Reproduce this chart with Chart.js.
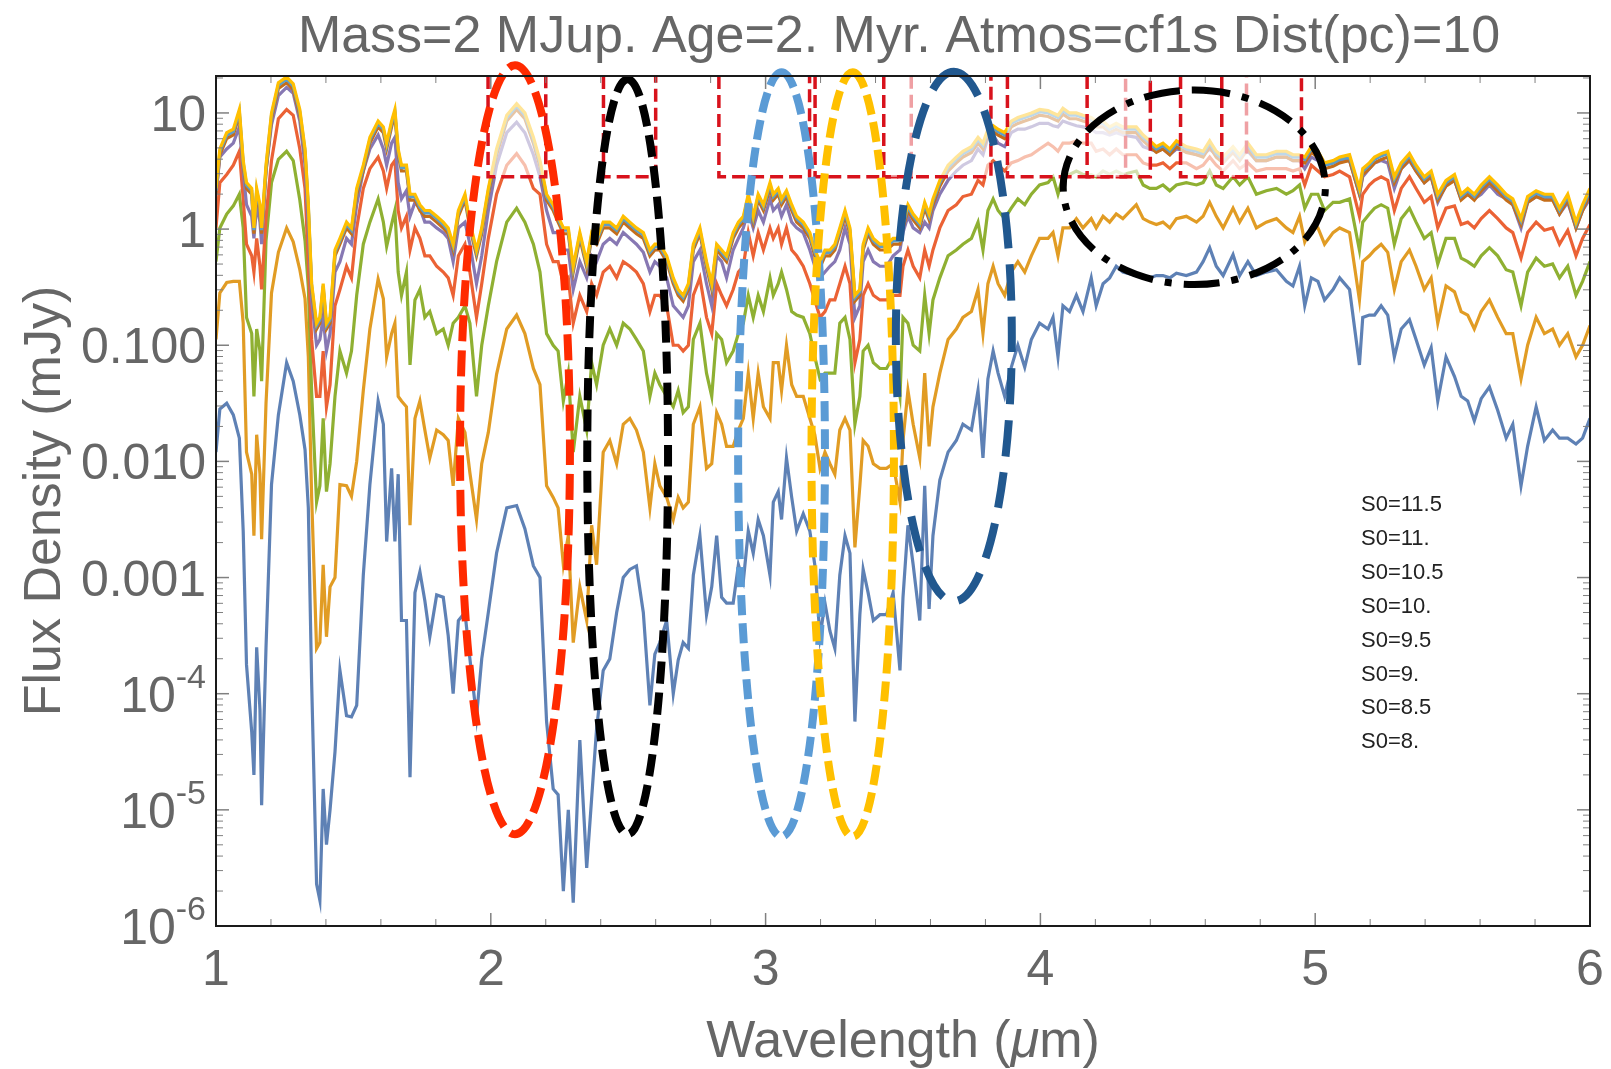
<!DOCTYPE html>
<html>
<head>
<meta charset="utf-8">
<script src="https://cdn.jsdelivr.net/npm/chart.js@4.4.0/dist/chart.umd.min.js"></script>
<style>
  html, body { margin: 0; padding: 0; background: #fff; }
  #wrap { width: 1611px; height: 1069px; }
</style>
</head>
<body>
<div id="wrap"><canvas id="spectra"></canvas></div>
<script>
// wavelength grid (micron)
const wavelength = [
  1.000,1.014,1.039,1.063,1.085,1.099,1.111,1.130,1.138,1.148,1.160,1.166,1.182,1.202,1.227,1.257,1.281,1.305,1.324,1.336,1.348,1.366,1.378,1.390,1.402,1.415,1.433,1.451,1.475,1.493,1.512,1.536,1.560,1.590,1.609,1.621,1.639,1.651,1.663,1.675,1.693,1.706,1.724,1.742,1.760,1.778,1.803,1.827,1.845,
  1.863,1.882,1.906,1.924,1.948,1.967,1.991,2.021,2.058,2.094,2.124,2.155,2.179,2.203,2.227,2.245,2.264,2.282,2.300,2.324,2.349,2.367,2.385,2.409,2.433,2.458,2.482,2.506,2.530,2.555,2.579,2.597,2.615,2.640,
  2.664,2.682,2.700,2.719,2.737,2.761,2.785,2.804,2.822,2.840,2.858,2.882,2.901,2.919,2.937,2.955,2.973,2.992,3.016,3.028,3.046,3.058,3.076,3.095,3.113,3.137,3.161,3.179,3.198,3.216,3.234,3.252,3.270,3.289,3.307,3.325,3.343,3.355,3.373,3.392,3.416,3.440,3.464,3.489,
  3.500,3.518,3.537,3.561,3.579,3.595,3.609,3.634,3.664,3.694,3.718,3.749,3.773,3.791,3.809,3.828,3.846,3.870,3.894,3.918,3.943,3.967,3.997,4.028,4.046,4.064,4.082,4.106,4.131,4.155,4.185,4.203,4.228,4.252,4.276,4.300,
  4.349,4.374,4.398,4.422,4.446,4.471,4.495,4.531,4.568,4.592,4.616,4.640,4.665,4.701,4.725,4.755,4.786,4.822,4.859,4.895,4.919,4.943,4.962,4.986,5.010,5.034,5.065,5.089,5.125,
  5.161,5.173,5.197,5.216,5.240,5.264,5.288,5.313,5.343,5.367,5.397,5.422,5.446,5.476,5.507,5.531,5.555,5.579,5.604,5.634,5.664,5.695,5.719,5.749,5.773,5.804,5.834,5.864,5.889,5.919,5.949,5.973,6.000
];

// log10 of flux density (mJy) per S0 value
const logS0_8 = [
  -1.92,-1.55,-1.50,-1.60,-1.80,-2.60,-3.75,-4.33,-4.70,-3.60,-4.14,-4.96,-3.60,-2.20,-1.60,-1.15,-1.31,-1.60,-1.90,-2.40,-3.90,-5.64,-5.78,-4.82,-5.30,-5.00,-4.50,-3.80,-4.19,-4.20,-4.10,-2.98,-2.20,-1.48,-1.68,-2.69,-2.06,-2.69,-2.11,-3.37,-3.37,-4.72,-3.13,-2.95,-3.20,-3.51,-3.15,-3.17,-3.50,
  -4.00,-3.37,-3.30,-3.70,-4.20,-3.70,-3.30,-2.79,-2.40,-2.38,-2.58,-2.90,-3.00,-4.24,-4.82,-4.87,-5.70,-5.00,-5.80,-4.40,-5.50,-4.90,-4.30,-3.80,-3.70,-3.30,-3.00,-2.93,-2.90,-3.30,-4.10,-3.66,-3.56,-3.37,
  -4.00,-3.71,-3.56,-3.61,-2.98,-2.64,-3.32,-3.08,-2.64,-3.17,-3.22,-3.22,-2.89,-3.03,-2.60,-2.79,-2.50,-2.64,-2.98,-2.35,-2.26,-2.50,-1.97,-2.31,-2.60,-2.45,-2.60,-2.89,-3.51,-3.22,-3.46,-3.61,-2.98,-2.64,-2.79,-4.24,-3.32,-2.93,-3.13,-3.37,-3.32,-3.32,-3.13,-3.80,
  -3.17,-2.55,-2.89,-3.37,-2.21,-3.27,-2.64,-2.16,-1.92,-1.82,-1.68,-1.73,-1.39,-1.97,-1.29,-1.05,-1.24,-1.44,-1.19,-1.00,-1.19,-0.95,-0.81,-0.86,-0.76,-1.10,-0.66,-0.71,-0.57,-0.71,-0.42,-0.66,-0.47,-0.42,-0.32,-0.37,
  -0.40,-0.40,-0.42,-0.40,-0.40,-0.42,-0.38,-0.40,-0.37,-0.28,-0.16,-0.32,-0.40,-0.22,-0.40,-0.28,-0.40,-0.37,-0.35,-0.45,-0.49,-0.32,-0.66,-0.42,-0.45,-0.61,-0.52,-0.42,-0.52,
  -1.17,-0.76,-0.74,-0.74,-0.66,-0.74,-1.10,-0.86,-0.78,-0.95,-1.17,-1.02,-1.48,-1.10,-1.27,-1.44,-1.48,-1.65,-1.46,-1.36,-1.56,-1.80,-1.68,-2.21,-1.87,-1.53,-1.82,-1.73,-1.80,-1.80,-1.85,-1.80,-1.63
];
const logS0_85 = [
  -0.95,-0.55,-0.46,-0.45,-0.45,-0.81,-1.92,-2.11,-2.64,-1.77,-2.11,-2.67,-1.50,-0.55,-0.20,0.01,-0.11,-0.35,-0.60,-1.10,-2.30,-3.61,-3.56,-2.89,-3.51,-3.08,-3.00,-2.20,-2.21,-2.30,-2.00,-1.39,-0.86,-0.43,-0.60,-1.10,-0.90,-0.81,-1.44,-1.48,-1.53,-2.55,-1.63,-1.48,-1.73,-1.97,-1.73,-1.77,-1.82,
  -2.21,-1.63,-1.75,-2.10,-2.50,-2.02,-1.75,-1.25,-0.86,-0.74,-0.90,-1.20,-1.34,-2.21,-2.31,-2.40,-2.89,-2.64,-3.56,-3.08,-3.37,-2.55,-2.89,-1.92,-1.82,-2.02,-1.68,-1.63,-1.73,-1.92,-2.40,-2.02,-2.21,-2.31,
  -2.50,-2.31,-2.40,-2.35,-1.68,-1.53,-2.06,-2.02,-1.58,-1.68,-1.87,-1.87,-1.73,-1.63,-1.24,-1.63,-1.24,-1.53,-1.63,-1.15,-1.15,-1.39,-1.00,-1.34,-1.44,-1.44,-1.63,-1.77,-2.06,-1.92,-2.02,-2.11,-1.73,-1.63,-1.73,-2.74,-2.21,-1.82,-1.87,-2.02,-2.06,-2.06,-2.02,-2.35,
  -1.82,-1.39,-1.68,-1.97,-1.24,-1.87,-1.53,-1.24,-0.95,-0.86,-0.76,-0.71,-0.52,-0.90,-0.47,-0.32,-0.47,-0.57,-0.37,-0.28,-0.37,-0.23,-0.08,-0.08,-0.03,-0.23,0.01,0.01,0.09,0.01,0.09,0.01,0.11,0.06,0.13,0.09,
  0.21,0.09,0.06,0.04,0.06,0.01,0.09,0.11,0.06,0.11,0.23,0.11,0.01,0.18,0.06,0.18,0.01,0.06,0.09,0.01,-0.03,0.11,-0.11,0.01,0.01,-0.13,-0.03,0.01,-0.03,
  -0.61,-0.28,-0.23,-0.18,-0.13,-0.20,-0.52,-0.28,-0.18,-0.32,-0.52,-0.42,-0.81,-0.49,-0.54,-0.71,-0.74,-0.86,-0.71,-0.61,-0.76,-0.90,-0.90,-1.29,-1.00,-0.76,-0.90,-0.86,-1.00,-0.90,-1.10,-1.00,-0.83
];
const logS0_9 = [
  -0.28,0.01,0.13,0.20,0.30,0.01,-0.76,-0.90,-1.44,-0.86,-1.05,-1.31,-0.10,0.40,0.60,0.67,0.59,0.25,-0.10,-0.50,-1.40,-2.35,-2.21,-1.63,-2.26,-2.02,-1.44,-1.05,-1.24,-1.05,-0.57,-0.13,0.06,0.26,0.06,-0.15,0.04,0.16,-0.37,-0.57,-0.37,-1.17,-0.61,-0.52,-0.76,-0.71,-0.90,-0.86,-1.00,
  -0.81,-0.76,-0.66,-0.81,-1.44,-1.00,-0.66,-0.28,0.06,0.18,0.06,-0.13,-0.37,-0.90,-1.00,-1.05,-1.48,-1.24,-1.92,-1.44,-1.73,-1.15,-1.34,-1.00,-0.86,-1.00,-0.81,-0.86,-0.95,-1.05,-1.44,-1.24,-1.34,-1.44,
  -1.53,-1.39,-1.58,-1.53,-0.95,-0.81,-1.24,-1.44,-0.90,-0.95,-1.15,-1.05,-0.90,-0.81,-0.57,-0.76,-0.57,-0.71,-0.42,-0.57,-0.47,-0.37,-0.52,-0.71,-0.74,-0.76,-0.90,-1.10,-1.29,-1.24,-1.24,-1.24,-0.81,-0.76,-0.95,-1.68,-1.44,-1.05,-1.00,-1.15,-1.20,-1.20,-1.10,-1.44,
  -0.76,-0.81,-1.00,-1.05,-0.57,-0.90,-0.61,-0.42,-0.23,-0.18,-0.13,-0.08,0.06,-0.18,0.16,0.26,0.16,0.09,0.18,0.26,0.21,0.30,0.38,0.40,0.45,0.30,0.45,0.47,0.50,0.47,0.47,0.45,0.50,0.47,0.50,0.47,
  0.50,0.38,0.35,0.35,0.38,0.33,0.38,0.40,0.38,0.40,0.50,0.38,0.35,0.45,0.38,0.45,0.30,0.33,0.35,0.30,0.33,0.38,0.18,0.30,0.30,0.16,0.23,0.23,0.26,
  -0.18,0.06,0.13,0.18,0.21,0.18,-0.13,0.09,0.18,0.06,-0.08,-0.03,-0.30,-0.08,-0.08,-0.25,-0.28,-0.32,-0.23,-0.16,-0.23,-0.35,-0.37,-0.66,-0.37,-0.25,-0.32,-0.30,-0.42,-0.32,-0.57,-0.45,-0.28
];
const logS0_95 = [
  0.01,0.40,0.47,0.55,0.67,0.26,-0.13,-0.23,-0.37,-0.08,-0.32,-0.52,0.10,0.59,0.95,1.03,0.98,0.69,0.35,-0.30,-0.95,-1.44,-1.44,-1.05,-1.53,-1.34,-0.66,-0.52,-0.32,-0.42,0.01,0.35,0.52,0.62,0.50,0.35,0.55,0.59,0.16,0.01,0.11,-0.18,0.01,-0.08,-0.23,-0.23,-0.32,-0.37,-0.42,
  -0.57,-0.23,-0.13,-0.37,-0.76,-0.47,-0.08,0.30,0.55,0.65,0.55,0.35,0.30,-0.13,-0.28,-0.28,-0.47,-0.42,-0.81,-0.57,-0.71,-0.47,-0.57,-0.37,-0.32,-0.42,-0.28,-0.32,-0.37,-0.47,-0.71,-0.57,-0.57,-0.66,
  -1.00,-1.00,-1.05,-1.00,-0.57,-0.42,-0.76,-0.90,-0.47,-0.57,-0.66,-0.52,-0.37,-0.32,-0.03,-0.23,-0.03,-0.18,0.01,-0.08,0.01,-0.13,0.01,-0.18,-0.23,-0.32,-0.47,-0.61,-0.76,-0.71,-0.61,-0.61,-0.47,-0.32,-0.47,-1.15,-0.95,-0.57,-0.47,-0.57,-0.61,-0.61,-0.57,-0.57,
  -0.32,-0.18,-0.32,-0.42,-0.18,-0.32,-0.18,0.01,0.16,0.21,0.28,0.30,0.42,0.38,0.55,0.59,0.55,0.50,0.57,0.59,0.62,0.64,0.69,0.74,0.71,0.67,0.74,0.74,0.76,0.74,0.74,0.67,0.69,0.64,0.69,0.64,
  0.64,0.57,0.55,0.55,0.57,0.52,0.57,0.57,0.52,0.55,0.62,0.55,0.50,0.59,0.52,0.57,0.50,0.52,0.52,0.52,0.50,0.52,0.38,0.55,0.50,0.45,0.47,0.50,0.45,
  0.11,0.30,0.38,0.42,0.45,0.42,0.16,0.35,0.45,0.35,0.23,0.28,0.01,0.18,0.20,0.04,0.06,0.01,0.09,0.16,0.09,0.01,-0.03,-0.25,-0.03,0.06,-0.01,0.01,-0.13,-0.01,-0.23,-0.08,0.04
];
const logS0_10 = [
  0.30,0.62,0.69,0.74,0.88,0.50,0.21,0.11,-0.08,0.21,0.06,-0.13,0.50,0.90,1.15,1.22,1.17,0.93,0.55,0.01,-0.61,-1.00,-0.95,-0.76,-1.05,-0.90,-0.37,-0.28,-0.08,-0.13,0.21,0.50,0.69,0.81,0.69,0.55,0.74,0.79,0.40,0.26,0.33,0.11,0.23,0.18,0.06,0.06,0.01,-0.03,-0.08,
  -0.28,0.01,0.06,-0.13,-0.47,-0.23,0.16,0.55,0.83,0.92,0.83,0.64,0.45,0.16,-0.03,-0.03,-0.18,-0.18,-0.52,-0.28,-0.42,-0.23,-0.28,-0.13,-0.08,-0.13,-0.03,-0.08,-0.13,-0.20,-0.37,-0.28,-0.32,-0.42,
  -0.66,-0.71,-0.76,-0.66,-0.28,-0.18,-0.47,-0.66,-0.23,-0.28,-0.42,-0.18,-0.08,0.01,0.16,0.01,0.16,0.06,0.26,0.16,0.21,0.11,0.21,0.06,0.01,-0.03,-0.18,-0.32,-0.42,-0.37,-0.32,-0.28,-0.18,0.01,-0.13,-0.76,-0.66,-0.28,-0.18,-0.28,-0.32,-0.32,-0.23,-0.18,
  -0.03,0.11,0.01,-0.03,0.06,0.01,0.16,0.30,0.42,0.50,0.55,0.59,0.69,0.64,0.79,0.81,0.74,0.71,0.83,0.86,0.86,0.88,0.91,0.91,0.89,0.88,0.93,0.91,0.89,0.88,0.86,0.83,0.83,0.81,0.83,0.81,
  0.79,0.71,0.69,0.67,0.69,0.64,0.69,0.67,0.64,0.64,0.69,0.64,0.59,0.67,0.62,0.67,0.59,0.59,0.62,0.62,0.59,0.59,0.52,0.62,0.59,0.55,0.57,0.59,0.59,
  0.30,0.45,0.52,0.57,0.59,0.57,0.35,0.52,0.59,0.50,0.40,0.45,0.23,0.38,0.42,0.26,0.30,0.26,0.30,0.38,0.30,0.26,0.21,0.01,0.23,0.28,0.26,0.26,0.13,0.23,0.01,0.16,0.26
];
const logS0_105 = [
  0.30,0.64,0.78,0.81,0.98,0.54,0.35,0.30,-0.04,0.30,0.16,-0.04,0.50,0.95,1.21,1.26,1.20,0.98,0.64,0.16,-0.52,-0.86,-0.81,-0.52,-0.86,-0.81,-0.23,-0.13,0.01,-0.04,0.30,0.50,0.74,0.88,0.83,0.69,0.88,0.98,0.64,0.50,0.50,0.25,0.25,0.16,0.11,0.11,0.06,0.01,-0.04,
  -0.18,0.11,0.25,0.01,-0.23,-0.04,0.30,0.64,0.93,1.03,0.95,0.74,0.54,0.25,0.16,0.06,-0.04,-0.04,-0.37,-0.08,-0.33,-0.08,-0.13,0.01,0.01,-0.04,0.06,0.01,-0.04,-0.08,-0.23,-0.18,-0.18,-0.28,
  -0.47,-0.57,-0.62,-0.52,-0.18,-0.04,-0.33,-0.52,-0.18,-0.23,-0.28,-0.08,0.01,0.06,0.25,0.06,0.25,0.16,0.35,0.25,0.30,0.21,0.28,0.16,0.06,0.01,-0.08,-0.23,-0.33,-0.23,-0.23,-0.18,-0.04,0.11,-0.04,-0.62,-0.57,-0.18,-0.04,-0.13,-0.18,-0.18,-0.13,-0.13,
  0.01,0.16,0.08,0.01,0.18,0.08,0.21,0.37,0.50,0.57,0.62,0.66,0.74,0.69,0.81,0.84,0.81,0.78,0.88,0.91,0.93,0.95,0.98,0.97,0.95,0.93,0.99,0.95,0.95,0.93,0.91,0.88,0.88,0.83,0.86,0.83,
  0.83,0.76,0.71,0.66,0.69,0.64,0.71,0.66,0.64,0.62,0.71,0.62,0.57,0.66,0.59,0.69,0.59,0.59,0.62,0.62,0.59,0.59,0.57,0.66,0.62,0.52,0.54,0.57,0.59,
  0.30,0.47,0.52,0.57,0.60,0.62,0.40,0.52,0.60,0.50,0.40,0.45,0.25,0.37,0.42,0.25,0.30,0.25,0.33,0.40,0.33,0.25,0.21,0.04,0.23,0.28,0.25,0.25,0.13,0.25,0.01,0.16,0.30
];
const logS0_11 = [
  0.33,0.67,0.81,0.84,1.01,0.57,0.38,0.33,-0.01,0.33,0.19,-0.01,0.53,0.98,1.24,1.29,1.23,1.01,0.67,0.19,-0.49,-0.83,-0.78,-0.49,-0.83,-0.78,-0.20,-0.10,0.04,-0.01,0.33,0.53,0.77,0.91,0.86,0.72,0.91,1.01,0.67,0.53,0.53,0.28,0.28,0.19,0.14,0.14,0.09,0.04,-0.01,
  -0.15,0.14,0.28,0.04,-0.20,-0.01,0.33,0.67,0.96,1.06,0.98,0.77,0.57,0.28,0.19,0.09,-0.01,-0.01,-0.34,-0.05,-0.30,-0.05,-0.10,0.04,0.04,-0.01,0.09,0.04,-0.01,-0.05,-0.20,-0.15,-0.15,-0.25,
  -0.44,-0.54,-0.59,-0.49,-0.15,-0.01,-0.30,-0.49,-0.15,-0.20,-0.25,-0.05,0.04,0.09,0.28,0.09,0.28,0.19,0.38,0.28,0.33,0.24,0.31,0.19,0.09,0.04,-0.05,-0.20,-0.30,-0.20,-0.20,-0.15,-0.01,0.14,-0.01,-0.59,-0.54,-0.15,-0.01,-0.10,-0.15,-0.15,-0.10,-0.10,
  0.04,0.19,0.11,0.04,0.21,0.11,0.24,0.40,0.53,0.60,0.65,0.69,0.77,0.72,0.84,0.87,0.84,0.81,0.91,0.94,0.96,0.98,1.01,1.00,0.98,0.96,1.02,0.98,0.98,0.96,0.94,0.91,0.91,0.86,0.89,0.86,
  0.86,0.79,0.74,0.69,0.72,0.67,0.74,0.69,0.67,0.65,0.74,0.65,0.60,0.69,0.62,0.72,0.62,0.62,0.65,0.65,0.62,0.62,0.60,0.69,0.65,0.55,0.57,0.60,0.62,
  0.33,0.50,0.55,0.60,0.63,0.65,0.43,0.55,0.63,0.53,0.43,0.48,0.28,0.40,0.45,0.28,0.33,0.28,0.36,0.43,0.36,0.28,0.24,0.07,0.26,0.31,0.28,0.28,0.16,0.28,0.04,0.19,0.33
];
const logS0_115 = [
  0.35,0.69,0.83,0.86,1.03,0.59,0.40,0.35,0.01,0.35,0.21,0.01,0.55,1.00,1.26,1.31,1.25,1.03,0.69,0.21,-0.47,-0.81,-0.76,-0.47,-0.81,-0.76,-0.18,-0.08,0.06,0.01,0.35,0.55,0.79,0.93,0.88,0.74,0.93,1.03,0.69,0.55,0.55,0.30,0.30,0.21,0.16,0.16,0.11,0.06,0.01,
  -0.13,0.16,0.30,0.06,-0.18,0.01,0.35,0.69,0.98,1.08,1.00,0.79,0.59,0.30,0.21,0.11,0.01,0.01,-0.32,-0.03,-0.28,-0.03,-0.08,0.06,0.06,0.01,0.11,0.06,0.01,-0.03,-0.18,-0.13,-0.13,-0.23,
  -0.42,-0.52,-0.57,-0.47,-0.13,0.01,-0.28,-0.47,-0.13,-0.18,-0.23,-0.03,0.06,0.11,0.30,0.11,0.30,0.21,0.40,0.30,0.35,0.26,0.33,0.21,0.11,0.06,-0.03,-0.18,-0.28,-0.18,-0.18,-0.13,0.01,0.16,0.01,-0.57,-0.52,-0.13,0.01,-0.08,-0.13,-0.13,-0.08,-0.08,
  0.06,0.21,0.13,0.06,0.23,0.13,0.26,0.42,0.55,0.62,0.67,0.71,0.79,0.74,0.86,0.89,0.86,0.83,0.93,0.96,0.98,1.00,1.03,1.02,1.00,0.98,1.04,1.00,1.00,0.98,0.96,0.93,0.93,0.88,0.91,0.88,
  0.88,0.81,0.76,0.71,0.74,0.69,0.76,0.71,0.69,0.67,0.76,0.67,0.62,0.71,0.64,0.74,0.64,0.64,0.67,0.67,0.64,0.64,0.62,0.71,0.67,0.57,0.59,0.62,0.64,
  0.35,0.52,0.57,0.62,0.65,0.67,0.45,0.57,0.65,0.55,0.45,0.50,0.30,0.42,0.47,0.30,0.35,0.30,0.38,0.45,0.38,0.30,0.26,0.09,0.28,0.33,0.30,0.30,0.18,0.30,0.06,0.21,0.35
];

const legendLabels = ['S0=11.5', 'S0=11.', 'S0=10.5', 'S0=10.', 'S0=9.5', 'S0=9.', 'S0=8.5', 'S0=8.'];
const xTickValues = [1, 2, 3, 4, 5, 6];
const yTickValues = [10, 1, 0.1, 0.01, 0.001, 1e-4, 1e-5, 1e-6];
const yTickLabels = ['10', '1', '0.100', '0.010', '0.001', ['10', '-4'], ['10', '-5'], ['10', '-6']];

// filter bands (micron), drawn as dashed boxes above 2.82 mJy
const bands = [[1.99, 2.20], [2.41, 2.60], [2.83, 3.16], [3.18, 3.53], [3.43, 3.82], [3.88, 4.31], [4.17, 4.40], [4.51, 4.75], [4.66, 4.95]];
const bandFloor = 2.82;

// highlight rings: centre wavelength, half width (micron), centre log10 flux, half height (decades)
const rings = [
  { wl: 2.088, hw: 0.200, lc: -1.90, hd: 3.31, color: '#ff2a00', dash: [26, 9], width: 8 },
  { wl: 2.498, hw: 0.147, lc: -1.96, hd: 3.25, color: '#000000', dash: [22, 9], width: 8 },
  { wl: 3.058, hw: 0.158, lc: -1.94, hd: 3.29, color: '#5b9bd5', dash: [20, 8], width: 8 },
  { wl: 3.317, hw: 0.150, lc: -1.94, hd: 3.29, color: '#ffc000', dash: [20, 8], width: 8 },
  { wl: 3.685, hw: 0.211, lc: -0.925, hd: 2.28, color: '#21588f', dash: [36, 16], width: 8 },
  { wl: 4.560, hw: 0.477, lc: 0.36, hd: 0.837, color: '#000000', dash: [36, 12, 7, 12], width: 7 }
];

const series = [
  { label: legendLabels[0], logs: logS0_115, color: '#FFBF00' },
  { label: legendLabels[1], logs: logS0_11, color: '#5D9EC7' },
  { label: legendLabels[2], logs: logS0_105, color: '#C56E1A' },
  { label: legendLabels[3], logs: logS0_10, color: '#8778B3' },
  { label: legendLabels[4], logs: logS0_95, color: '#EB6235' },
  { label: legendLabels[5], logs: logS0_9, color: '#8FB032' },
  { label: legendLabels[6], logs: logS0_85, color: '#E19C24' },
  { label: legendLabels[7], logs: logS0_8, color: '#5E81B5' }
];

const FONT = '"Liberation Sans", Arial, Helvetica, sans-serif';
const GREY = '#666666';

function toPoints(logs) {
  return wavelength.map((w, i) => ({ x: w, y: Math.pow(10, logs[i]) }));
}

const decor = {
  id: 'decor',
  afterDatasetsDraw(chart) {
    const { ctx, chartArea: a, scales: { x, y } } = chart;
    ctx.save();
    const yb = y.getPixelForValue(bandFloor);
    bands.forEach(([lo, hi]) => {
      const x0 = x.getPixelForValue(lo), x1 = x.getPixelForValue(hi);
      ctx.setLineDash([]);
      ctx.fillStyle = 'rgba(255,255,255,0.6)';
      ctx.fillRect(x0, a.top, x1 - x0, yb - a.top);
      ctx.strokeStyle = '#d8121c';
      ctx.lineWidth = 3.5;
      ctx.setLineDash([13, 6]);
      ctx.beginPath();
      ctx.moveTo(x0, a.top);
      ctx.lineTo(x0, yb);
      ctx.lineTo(x1, yb);
      ctx.lineTo(x1, a.top);
      ctx.stroke();
    });
    rings.forEach(r => {
      const cx = x.getPixelForValue(r.wl);
      const rx = x.getPixelForValue(r.wl + r.hw) - cx;
      const cy = y.getPixelForValue(Math.pow(10, r.lc));
      const ry = y.getPixelForValue(Math.pow(10, r.lc - r.hd)) - cy;
      ctx.strokeStyle = r.color;
      ctx.lineWidth = r.width;
      ctx.setLineDash(r.dash);
      ctx.beginPath();
      ctx.ellipse(cx, cy, rx, ry, 0, -Math.PI / 2, Math.PI * 1.5);
      ctx.stroke();
    });
    ctx.restore();
  },
  afterDraw(chart) {
    const { ctx, chartArea: a, scales: { x, y } } = chart;
    ctx.save();
    ctx.setLineDash([]);

    // ticks, pointing inwards on all four sides
    ctx.strokeStyle = '#808080';
    const tick = (x0, y0, x1, y1, w) => {
      ctx.lineWidth = w;
      ctx.beginPath(); ctx.moveTo(x0, y0); ctx.lineTo(x1, y1); ctx.stroke();
    };
    for (let e = -6; e <= 1; e++) {
      for (let k = 1; k <= 9; k++) {
        const v = k * Math.pow(10, e);
        if (v > y.max) break;
        const py = y.getPixelForValue(v);
        const len = k === 1 ? 13 : 7;
        tick(a.left, py, a.left + len, py, k === 1 ? 1.5 : 1);
        tick(a.right, py, a.right - len, py, k === 1 ? 1.5 : 1);
      }
    }
    for (let i = 0; i <= 25; i++) {
      const v = 1 + i * 0.2;
      const px = x.getPixelForValue(v);
      const major = i % 5 === 0;
      const len = major ? 13 : 7;
      tick(px, a.bottom, px, a.bottom - len, major ? 1.5 : 1);
      tick(px, a.top, px, a.top + len, major ? 1.5 : 1);
    }

    // frame
    ctx.strokeStyle = '#1a1a1a';
    ctx.lineWidth = 2;
    ctx.strokeRect(a.left, a.top, a.right - a.left, a.bottom - a.top);

    // tick labels
    ctx.fillStyle = GREY;
    ctx.textBaseline = 'alphabetic';
    const labelRight = a.left - 10;
    yTickValues.forEach((v, i) => {
      const py = y.getPixelForValue(v);
      const lab = yTickLabels[i];
      if (Array.isArray(lab)) {
        ctx.font = '34px ' + FONT;
        const ws = ctx.measureText(lab[1]).width;
        ctx.textAlign = 'right';
        ctx.fillText(lab[1], labelRight, py - 6);
        ctx.font = '50px ' + FONT;
        ctx.fillText(lab[0], labelRight - ws, py + 18);
      } else {
        ctx.font = '50px ' + FONT;
        ctx.textAlign = 'right';
        ctx.fillText(lab, labelRight, py + 18);
      }
    });
    ctx.font = '50px ' + FONT;
    ctx.textAlign = 'center';
    xTickValues.forEach(v => ctx.fillText(String(v), x.getPixelForValue(v), a.bottom + 59));

    // title
    const midX = (a.left + a.right) / 2;
    ctx.font = '52px ' + FONT;
    ctx.fillText('Mass=2 MJup. Age=2. Myr. Atmos=cf1s Dist(pc)=10', midX - 4, 52);

    // x axis title with italic mu
    const parts = [['Wavelength (', '52px '], ['\u03bc', 'italic 52px '], ['m)', '52px ']];
    let total = 0;
    parts.forEach(p => { ctx.font = p[1] + FONT; total += ctx.measureText(p[0]).width; });
    let cx = midX - total / 2;
    ctx.textAlign = 'left';
    parts.forEach(p => {
      ctx.font = p[1] + FONT;
      ctx.fillText(p[0], cx, 1057);
      cx += ctx.measureText(p[0]).width;
    });

    // y axis title
    ctx.save();
    ctx.translate(60, (a.top + a.bottom) / 2);
    ctx.rotate(-Math.PI / 2);
    ctx.font = '52px ' + FONT;
    ctx.textAlign = 'center';
    ctx.fillText('Flux Density (mJy)', 0, 0);
    ctx.restore();

    // legend (text only, as in the original)
    ctx.font = '22px ' + FONT;
    ctx.fillStyle = '#222222';
    ctx.textAlign = 'left';
    legendLabels.forEach((t, i) => ctx.fillText(t, 1361, 511 + i * 33.9));

    ctx.restore();
  }
};

new Chart(document.getElementById('spectra'), {
  type: 'line',
  data: {
    datasets: series.map(s => ({
      label: s.label,
      data: toPoints(s.logs),
      borderColor: s.color,
      backgroundColor: s.color,
      borderWidth: 3.2,
      pointRadius: 0,
      tension: 0,
      fill: false
    }))
  },
  options: {
    responsive: true,
    maintainAspectRatio: false,
    animation: false,
    events: [],
    layout: { padding: { left: 216, right: 21, top: 76, bottom: 143 } },
    scales: {
      x: { type: 'linear', min: 1, max: 6, display: false },
      y: { type: 'logarithmic', min: 1e-6, max: 20.8, display: false }
    },
    plugins: { legend: { display: false }, tooltip: { enabled: false } }
  },
  plugins: [decor]
});
</script>
</body>
</html>
